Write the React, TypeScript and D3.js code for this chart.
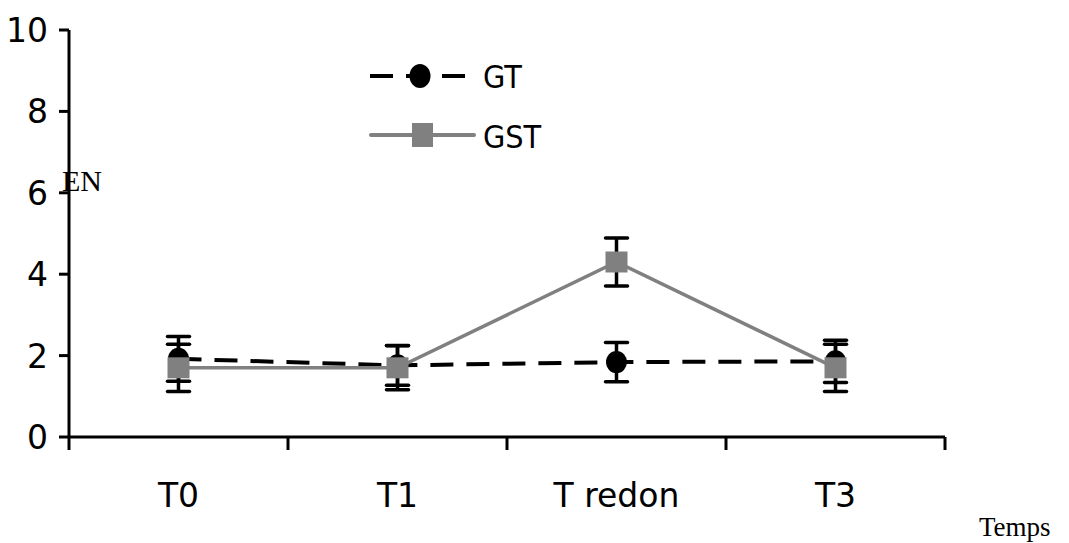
import React, { useRef, useEffect } from 'react';
import * as d3 from 'd3';

const categories = ['T0', 'T1', 'T redon', 'T3'];
const gtValues = [1.92, 1.76, 1.84, 1.86];
const gtErrors = [0.55, 0.49, 0.48, 0.52];
const gstValues = [1.7, 1.7, 4.3, 1.7];
const gstErrors = [0.58, 0.54, 0.59, 0.58];
const yTicks = [0, 2, 4, 6, 8, 10];

const App = () => {
  const ref = useRef<SVGSVGElement>(null);

  useEffect(() => {
    const svg = d3.select(ref.current);
    svg.selectAll('*').remove();

    const x = d3.scaleBand<string>().domain(categories).range([69, 945]).padding(0);
    const cx = (c: string) => (x(c) as number) + x.bandwidth() / 2;
    const y = d3.scaleLinear().domain([0, 10]).range([437, 30]);

    const axisFont = "'DejaVu Sans', sans-serif";

    // y axis
    svg.append('line')
      .attr('x1', 69).attr('x2', 69)
      .attr('y1', y(10)).attr('y2', y(0))
      .attr('stroke', '#000').attr('stroke-width', 3);
    svg.selectAll('.ytick')
      .data(yTicks)
      .enter()
      .append('line')
      .attr('x1', 59).attr('x2', 69)
      .attr('y1', (d) => y(d)).attr('y2', (d) => y(d))
      .attr('stroke', '#000').attr('stroke-width', 3);
    svg.selectAll('.ylabel')
      .data(yTicks)
      .enter()
      .append('text')
      .attr('x', 48)
      .attr('y', (d) => y(d) + 12)
      .attr('text-anchor', 'end')
      .style('font-family', axisFont)
      .style('font-size', '33px')
      .text((d) => d);

    // x axis
    svg.append('line')
      .attr('x1', 69).attr('x2', 945)
      .attr('y1', y(0)).attr('y2', y(0))
      .attr('stroke', '#000').attr('stroke-width', 3);
    const xEdges = categories.map((c) => x(c) as number).concat([945]);
    svg.selectAll('.xtick')
      .data(xEdges)
      .enter()
      .append('line')
      .attr('x1', (d) => d).attr('x2', (d) => d)
      .attr('y1', y(0)).attr('y2', y(0) + 13)
      .attr('stroke', '#000').attr('stroke-width', 3);
    svg.selectAll('.xlabel')
      .data(categories)
      .enter()
      .append('text')
      .attr('x', (d) => cx(d))
      .attr('y', 507)
      .attr('text-anchor', 'middle')
      .style('font-family', axisFont)
      .style('font-size', '33px')
      .text((d) => d);

    // axis titles
    svg.append('text')
      .attr('x', 62).attr('y', 191)
      .style('font-family', "'Liberation Serif', 'Times New Roman', serif")
      .style('font-size', '30px')
      .text('EN');
    svg.append('text')
      .attr('x', 979).attr('y', 536)
      .style('font-family', "'Liberation Serif', 'Times New Roman', serif")
      .style('font-size', '27px')
      .text('Temps');

    // lines
    const line = d3.line<number>()
      .x((d, i) => cx(categories[i]))
      .y((d) => y(d));
    svg.append('path')
      .attr('d', line(gtValues))
      .attr('fill', 'none')
      .attr('stroke', '#000')
      .attr('stroke-width', 4)
      .attr('stroke-dasharray', '23,13');
    svg.append('path')
      .attr('d', line(gstValues))
      .attr('fill', 'none')
      .attr('stroke', '#808080')
      .attr('stroke-width', 3.5);

    // error bars
    const drawErrors = (vals: number[], errs: number[]) => {
      vals.forEach((v, i) => {
        const px = cx(categories[i]);
        const g = svg.append('g').attr('stroke', '#000').attr('stroke-width', 3.5);
        g.append('line').attr('x1', px).attr('x2', px).attr('y1', y(v + errs[i])).attr('y2', y(v - errs[i]));
        [v + errs[i], v - errs[i]].forEach((e) => {
          g.append('line')
            .attr('x1', px - 11).attr('x2', px + 11)
            .attr('y1', y(e)).attr('y2', y(e))
            .attr('stroke-linecap', 'round');
        });
      });
    };
    drawErrors(gtValues, gtErrors);
    drawErrors(gstValues, gstErrors);

    // markers
    svg.selectAll('.gt')
      .data(gtValues)
      .enter()
      .append('ellipse')
      .attr('cx', (d, i) => cx(categories[i]))
      .attr('cy', (d) => y(d))
      .attr('rx', 10.5).attr('ry', 11)
      .attr('fill', '#000');
    svg.selectAll('.gst')
      .data(gstValues)
      .enter()
      .append('rect')
      .attr('x', (d, i) => cx(categories[i]) - 11)
      .attr('y', (d) => y(d) - 10.5)
      .attr('width', 22).attr('height', 21)
      .attr('fill', '#808080');

    // legend
    const legendFont = "'DejaVu Sans Condensed', 'DejaVu Sans', sans-serif";
    svg.append('line')
      .attr('x1', 370).attr('x2', 466)
      .attr('y1', 76).attr('y2', 76)
      .attr('stroke', '#000').attr('stroke-width', 4)
      .attr('stroke-dasharray', '23,13');
    svg.append('ellipse')
      .attr('cx', 420).attr('cy', 76).attr('rx', 10.5).attr('ry', 12)
      .attr('fill', '#000');
    svg.append('text')
      .attr('x', 483).attr('y', 88)
      .style('font-family', legendFont)
      .style('font-stretch', 'condensed')
      .style('font-size', '32px')
      .text('GT');

    svg.append('line')
      .attr('x1', 371).attr('x2', 474)
      .attr('y1', 135).attr('y2', 135)
      .attr('stroke', '#808080').attr('stroke-width', 4)
      .attr('stroke-linecap', 'round');
    svg.append('rect')
      .attr('x', 412).attr('y', 123).attr('width', 21).attr('height', 24)
      .attr('fill', '#808080');
    svg.append('text')
      .attr('x', 483).attr('y', 148)
      .style('font-family', legendFont)
      .style('font-stretch', 'condensed')
      .style('font-size', '32px')
      .text('GST');
  }, []);

  return (
    <svg
      ref={ref}
      width="1069"
      height="543"
      style={{ position: 'absolute', left: 0, top: 0, background: '#fff' }}
    />
  );
};

export default App;
